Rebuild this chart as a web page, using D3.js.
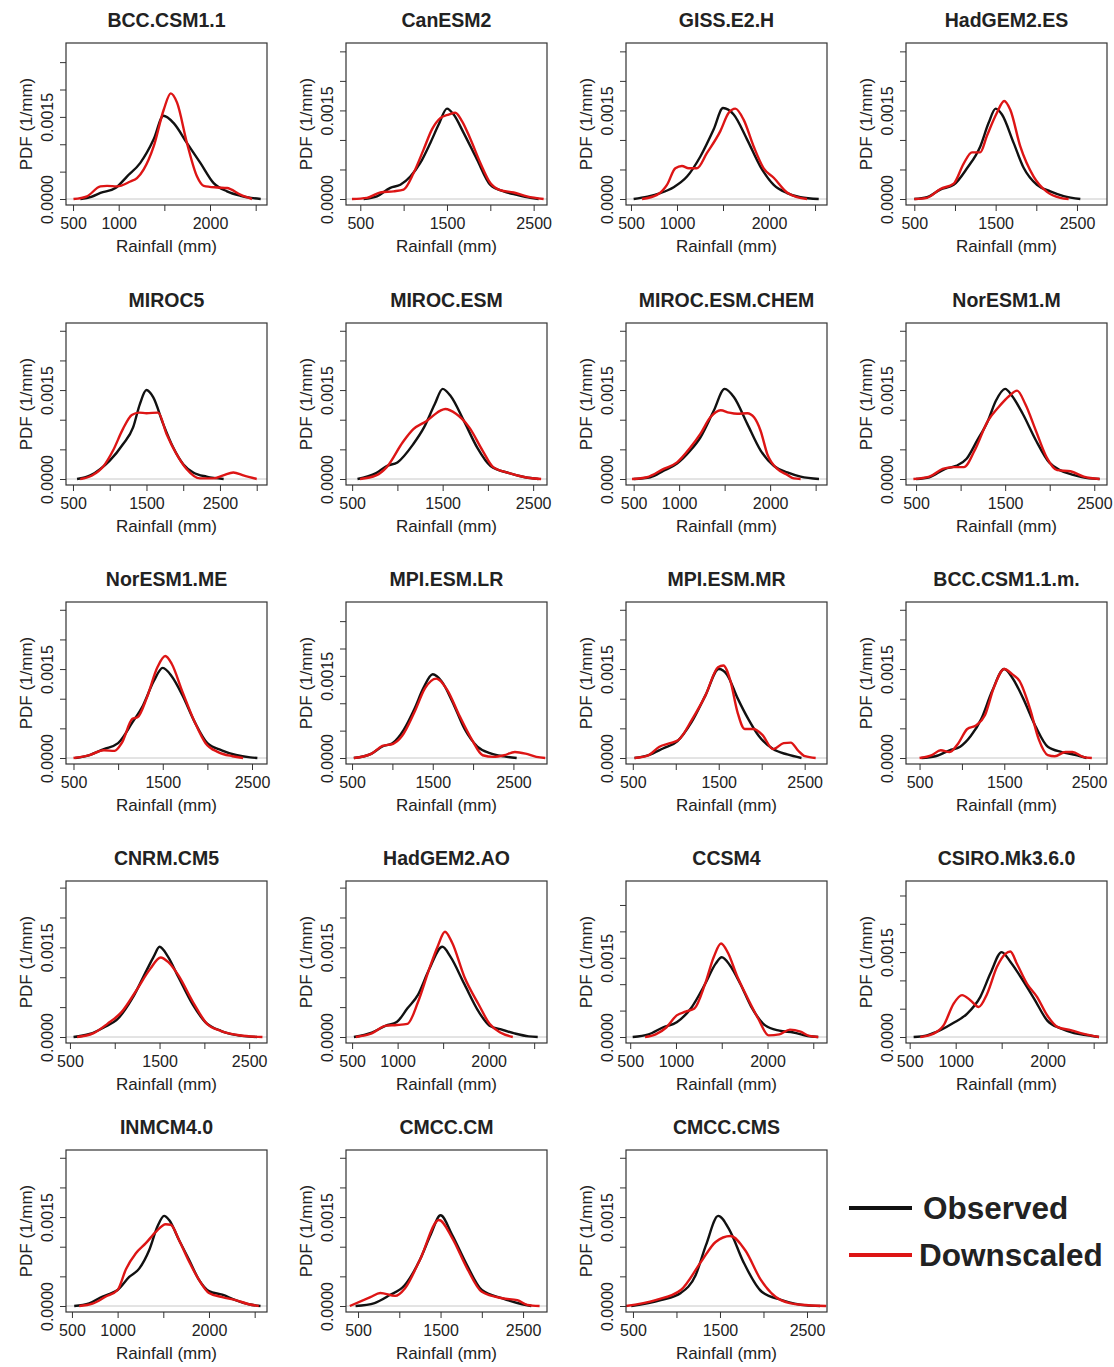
<!DOCTYPE html>
<html>
<head>
<meta charset="utf-8">
<script src="https://cdn.jsdelivr.net/npm/d3@7"></script>
<style>
body { margin: 0; background: #fff; }
text { font-family: "Liberation Sans", Arial, sans-serif; fill: #222; }
</style>
</head>
<body>
<svg id="fig" width="1114" height="1367"></svg>
<script>
// PDF values are written in units of 1e-4 per mm (15 -> 0.0015)
var PDF_UNIT = 1e-4;

var models = ["BCC.CSM1.1", "CanESM2", "GISS.E2.H", "HadGEM2.ES",
  "MIROC5", "MIROC.ESM", "MIROC.ESM.CHEM", "NorESM1.M",
  "NorESM1.ME", "MPI.ESM.LR", "MPI.ESM.MR", "BCC.CSM1.1.m.",
  "CNRM.CM5", "HadGEM2.AO", "CCSM4", "CSIRO.Mk3.6.0",
  "INMCM4.0", "CMCC.CM", "CMCC.CMS"];

// x axis limits (mm) of each panel
var xLimits = [[423, 2624], [335, 2654], [446, 2630], [398, 2869],
  [405, 3140], [432, 2653], [416, 2625], [387, 2643],
  [416, 2668], [425, 2916], [421, 2760], [340, 2712],
  [456, 2699], [433, 2641], [454, 2650], [460, 2645],
  [435, 2635], [354, 2790], [420, 2730]];

// y axis upper limit of each panel (1e-4 /mm)
var yLimits = [27.4, 25.4, 25.4, 25.4,
  25.3, 25.3, 25.3, 25.3,
  25.3, 27.4, 25.3, 25.3,
  25.1, 25.1, 28.4, 26.5,
  25.3, 25.3, 25.3];

// labelled x ticks of each panel
var xLabelsA = [500, 1000, 2000], xLabelsB = [500, 1500, 2500];
var xLabelled = [xLabelsA, xLabelsB, xLabelsA, xLabelsB,
  xLabelsB, xLabelsB, xLabelsA, xLabelsB,
  xLabelsB, xLabelsB, xLabelsB, xLabelsB,
  xLabelsB, xLabelsA, xLabelsA, xLabelsA,
  xLabelsA, xLabelsB, xLabelsB];
var yLabelled = [0, 0.0015];

// observed rainfall PDF, [mm, pdf]
var observed = [
  [[580,0],[700,0.4],[800,1.1],[965,2.0],[1090,4.1],[1237,6.6],[1383,10.9],[1490,15.2],[1600,13.9],[1748,10.2],[1894,6.6],[2040,2.9],[2186,1.4],[2332,0.6],[2450,0.2],[2555,0]],
  [[538,0],[692,0.45],[846,1.9],[962,2.4],[1077,3.8],[1192,6.1],[1308,9.5],[1404,12.6],[1500,15.3],[1577,14.3],[1692,11.2],[1846,6.7],[2000,2.4],[2154,1.3],[2308,0.7],[2462,0.2],[2558,0]],
  [[529,0],[680,0.4],[819,1.0],[964,2.0],[1109,3.8],[1254,7.2],[1399,11.8],[1500,15.4],[1616,14.3],[1761,10.1],[1906,5.5],[2051,2.4],[2196,1.0],[2341,0.3],[2540,0]],
  [[500,0],[656,0.3],[820,1.6],[984,2.4],[1148,5.2],[1311,8.9],[1414,12.9],[1500,15.3],[1578,14.3],[1721,9.5],[1844,5.3],[2008,2.4],[2172,1.3],[2336,0.5],[2541,0]],
  [[555,0],[736,0.6],[873,1.7],[1000,3.1],[1182,5.9],[1318,8.7],[1409,12.6],[1500,15.0],[1591,13.8],[1727,9.3],[1864,5.3],[2000,2.5],[2136,1.1],[2318,0.4],[2550,0]],
  [[559,0],[765,1.0],[882,2.2],[1000,2.8],[1176,5.9],[1294,8.7],[1412,12.6],[1500,15.2],[1588,14.0],[1735,9.8],[1882,5.3],[2029,2.2],[2235,1.0],[2412,0.3],[2559,0]],
  [[500,0],[683,0.3],[830,1.4],[977,2.6],[1123,4.8],[1233,7.0],[1380,11.5],[1500,15.2],[1603,13.8],[1749,9.3],[1896,4.8],[2042,2.2],[2189,1.1],[2335,0.4],[2537,0]],
  [[500,0],[649,0.3],[828,1.7],[948,2.2],[1067,3.4],[1186,6.5],[1306,9.8],[1396,13.2],[1500,15.2],[1578,14.0],[1697,11.0],[1846,6.5],[1994,2.8],[2114,1.5],[2263,0.7],[2442,0.1],[2560,0]],
  [[520,0],[680,0.5],[840,1.5],[1000,2.5],[1160,6.0],[1280,8.9],[1400,13.0],[1500,15.2],[1600,13.8],[1720,10.6],[1860,6.0],[2000,2.5],[2160,1.3],[2320,0.5],[2480,0.1],[2560,0]],
  [[522,0],[743,0.8],[876,2.1],[1000,2.7],[1142,5.2],[1274,9.0],[1385,12.8],[1500,15.3],[1611,14.0],[1743,10.3],[1898,5.2],[2053,2.1],[2208,0.9],[2385,0.3],[2540,0]],
  [[520,0],[686,0.5],[851,1.6],[1017,2.8],[1182,6.0],[1347,10.6],[1500,15.0],[1595,14.1],[1719,10.1],[1843,6.6],[1967,3.7],[2132,1.5],[2298,0.6],[2463,0]],
  [[521,0],[688,0.3],[854,1.3],[979,1.9],[1104,3.7],[1229,6.6],[1354,11.2],[1500,15.0],[1596,13.5],[1721,10.1],[1867,5.4],[2013,1.9],[2179,1.0],[2346,0.5],[2471,0]],
  [[540,0],[719,0.5],[878,1.6],[1038,3.1],[1197,6.5],[1357,11.2],[1436,13.5],[1500,15.1],[1592,13.5],[1711,10.0],[1871,5.4],[2010,2.5],[2189,1.0],[2349,0.35],[2588,0]],
  [[520,0],[716,0.75],[873,1.9],[990,2.5],[1108,4.8],[1225,7.1],[1343,11.2],[1492,15.1],[1578,13.5],[1735,8.8],[1892,4.2],[2010,1.9],[2127,1.3],[2284,0.6],[2441,0.1],[2539,0]],
  [[527,0],[701,0.5],[855,1.8],[1008,2.8],[1162,5.4],[1317,10.0],[1434,13.9],[1500,15.1],[1589,13.6],[1705,10.0],[1820,5.8],[1975,2.2],[2129,1.2],[2284,0.85],[2438,0.2],[2554,0]],
  [[543,0],[688,0.3],[833,1.2],[978,2.5],[1123,4.1],[1268,7.1],[1377,11.2],[1500,15.0],[1598,13.2],[1707,10.6],[1852,6.8],[1996,2.9],[2141,1.5],[2286,0.7],[2431,0.3],[2558,0]],
  [[525,0],[689,0.45],[835,1.6],[907,2.0],[1000,2.7],[1127,4.9],[1236,6.3],[1345,9.4],[1436,13.4],[1509,15.2],[1564,14.5],[1673,11.1],[1782,7.8],[1891,4.4],[2000,2.5],[2145,1.9],[2291,1.0],[2436,0.3],[2564,0]],
  [[470,0],[700,0.5],[880,1.8],[1065,3.5],[1250,7.8],[1380,12.0],[1500,15.3],[1640,12.0],[1820,6.9],[2000,2.7],[2250,1.3],[2490,0.3],[2600,0]],
  [[480,0],[820,1.0],[1050,2.2],[1220,5.2],[1340,10.3],[1480,15.2],[1610,12.8],[1770,7.4],[1980,2.4],[2210,1.0],[2490,0.1],[2650,0]]
];

// downscaled rainfall PDF, [mm, pdf]
var downscaled = [
  [[505,0],[653,0.5],[800,2.3],[872,2.4],[982,2.3],[1128,3.2],[1200,3.8],[1274,5.4],[1383,9.6],[1493,16.3],[1570,19.3],[1639,17.6],[1748,10.2],[1858,4.1],[1931,2.4],[2077,2.1],[2186,2.0],[2332,0.8],[2460,0]],
  [[404,0],[577,0.2],[731,1.1],[885,1.3],[1000,1.6],[1115,4.4],[1231,8.4],[1327,11.8],[1423,13.7],[1519,14.3],[1596,14.6],[1673,13.2],[1769,10.2],[1885,6.1],[2000,2.7],[2115,1.5],[2269,1.1],[2423,0.45],[2615,0]],
  [[620,0],[783,0.7],[891,2.4],[982,5.2],[1054,5.6],[1127,5.2],[1217,5.2],[1326,7.8],[1471,11.5],[1562,14.6],[1634,15.3],[1725,13.4],[1833,8.9],[1942,5.2],[2051,3.6],[2196,1.1],[2304,0.3],[2413,0]],
  [[500,0],[656,0.2],[820,1.7],[984,2.6],[1107,6.0],[1209,7.9],[1311,7.9],[1393,10.7],[1516,14.6],[1605,16.6],[1680,15.1],[1803,8.9],[1967,3.8],[2131,1.2],[2295,0.2],[2397,0]],
  [[600,0],[759,0.6],[918,2.2],[1045,4.8],[1182,8.5],[1300,10.8],[1400,11.2],[1500,11.1],[1659,11.2],[1773,7.6],[1909,4.2],[2045,1.7],[2227,0.1],[2409,0.1],[2545,0.6],[2682,1.1],[2818,0.6],[3000,0]],
  [[588,0],[765,0.6],[882,2.0],[1059,6.2],[1176,8.4],[1324,9.8],[1471,11.5],[1529,11.8],[1647,11.0],[1794,8.7],[1941,4.8],[2059,2.0],[2235,1.0],[2412,0.3],[2588,0]],
  [[482,0],[647,0.3],[830,1.7],[977,2.8],[1123,5.3],[1233,7.6],[1343,10.4],[1456,11.6],[1548,11.2],[1639,11.0],[1749,11.1],[1823,10.4],[1896,8.1],[1969,4.2],[2079,1.7],[2189,0.7],[2262,0.1],[2335,0]],
  [[470,0],[649,0.4],[799,1.7],[918,2.0],[1037,2.0],[1157,4.8],[1306,9.8],[1425,12.1],[1545,14.0],[1634,14.9],[1727,12.6],[1846,8.1],[1964,3.7],[2084,1.5],[2233,1.3],[2382,0.4],[2560,0]],
  [[500,0],[680,0.5],[840,1.3],[960,1.2],[1040,2.5],[1160,6.6],[1220,6.9],[1320,10.1],[1440,15.3],[1528,17.2],[1600,15.9],[1720,11.2],[1860,6.0],[1980,2.5],[2120,1.0],[2280,0.3],[2400,0]],
  [[522,0],[743,0.8],[876,2.2],[1009,2.6],[1119,4.0],[1274,8.4],[1407,12.8],[1544,14.5],[1677,12.5],[1832,7.7],[1987,3.3],[2119,0.5],[2252,0.2],[2385,0.5],[2518,1.1],[2650,0.8],[2783,0.2],[2894,0]],
  [[520,0],[686,0.5],[810,1.9],[934,2.5],[1037,3.1],[1182,6.3],[1347,10.6],[1492,15.3],[1554,15.6],[1636,13.0],[1719,7.7],[1802,4.9],[1905,4.9],[2008,3.9],[2132,1.5],[2256,2.5],[2339,2.6],[2421,1.3],[2504,0.3],[2628,0]],
  [[500,0],[646,0.5],[750,1.3],[854,1.0],[958,2.5],[1063,4.9],[1167,5.5],[1271,7.2],[1375,11.8],[1500,15.0],[1596,14.1],[1679,13.0],[1804,8.3],[1908,3.1],[2013,0.5],[2096,0.3],[2221,1.0],[2304,1.0],[2429,0.2],[2533,0]],
  [[580,0],[759,0.6],[918,2.2],[1078,4.2],[1237,7.7],[1396,11.4],[1512,13.3],[1592,12.6],[1711,10.3],[1871,5.9],[2030,2.2],[2189,1.0],[2388,0.3],[2648,0]],
  [[540,0],[716,0.6],[873,1.9],[990,2.0],[1108,2.2],[1225,5.9],[1343,11.2],[1441,15.2],[1520,17.6],[1598,15.8],[1735,10.0],[1892,5.4],[2010,2.2],[2127,0.75],[2265,0]],
  [[662,0],[778,0.5],[894,1.8],[1008,4.1],[1104,4.8],[1201,5.4],[1317,10.0],[1414,15.2],[1492,17.7],[1569,15.9],[1666,11.6],[1782,7.4],[1898,3.5],[2012,0.3],[2129,0.5],[2245,1.4],[2361,1.0],[2458,0.2],[2554,0]],
  [[616,0],[761,0.6],[870,2.1],[978,5.9],[1069,7.4],[1159,6.5],[1250,5.3],[1341,7.6],[1449,12.4],[1540,14.7],[1594,15.1],[1667,12.9],[1776,9.4],[1884,7.1],[1996,3.8],[2105,1.8],[2250,1.2],[2359,0.7],[2467,0.3],[2558,0]],
  [[580,0],[725,0.4],[871,1.6],[1000,2.7],[1091,6.2],[1200,8.9],[1309,10.6],[1418,12.5],[1527,13.8],[1582,13.7],[1673,11.1],[1782,7.5],[1891,4.4],[2000,2.2],[2145,1.5],[2291,1.0],[2436,0.3],[2545,0]],
  [[400,0],[650,1.5],[770,2.2],[950,1.7],[1070,3.0],[1250,7.8],[1480,14.5],[1640,11.5],[1820,6.4],[2000,2.4],[2250,1.3],[2430,1.0],[2550,0.2],[2700,0]],
  [[420,0],[760,1.0],[1050,2.7],[1280,7.4],[1450,10.8],[1620,11.8],[1790,9.4],[1970,4.4],[2200,1.0],[2430,0.2],[2720,0]]
];

var legendLabels = ["Observed", "Downscaled"];
var seriesColors = ["#111111", "#dd1515"];

var margin = {top: 43, left: 66},
    width = 201,
    height = 162,
    cellW = 280,
    rowTop = [0, 280, 559, 838, 1107];

var svg = d3.select("#fig");

models.forEach(function(name, i) {
  var col = i % 4, row = Math.floor(i / 4);
  var g = svg.append("g")
      .attr("transform", "translate(" + (col * cellW + margin.left) + "," + (rowTop[row] + margin.top) + ")");

  var x = d3.scaleLinear().domain(xLimits[i]).range([0, width]);
  var ymax = yLimits[i] * PDF_UNIT;
  var y = d3.scaleLinear().domain([-0.04 * ymax, 1.04 * ymax]).range([height, 0]);

  var xTicks = d3.range(Math.ceil(xLimits[i][0] / 500) * 500, xLimits[i][1], 500);
  var yTicks = d3.range(6).map(function(k) { return k * 0.0005; })
      .filter(function(v) { return v <= 1.04 * ymax; });

  var xa = g.append("g")
      .attr("transform", "translate(0," + height + ")")
      .call(d3.axisBottom(x).tickValues(xTicks).tickSize(6)
        .tickFormat(function(d) { return xLabelled[i].indexOf(d) >= 0 ? d : ""; }));
  xa.select(".domain").remove();
  xa.selectAll("line").attr("stroke", "#333");
  xa.selectAll("text").attr("y", 24).attr("dy", null)
      .style("font-size", "16px").attr("fill", "#222");

  var ya = g.append("g")
      .call(d3.axisLeft(y).tickValues(yTicks).tickSize(6)
        .tickFormat(function(d) { return yLabelled.indexOf(d) >= 0 ? d3.format(".4f")(d) : ""; }));
  ya.select(".domain").remove();
  ya.selectAll("line").attr("stroke", "#333");
  ya.selectAll("text").attr("x", 0).attr("y", -13).attr("dy", null)
      .attr("transform", "rotate(-90)")
      .style("text-anchor", "middle").style("font-size", "16px").attr("fill", "#222");

  // zero line as drawn by plot.density
  g.append("line")
      .attr("x1", 0).attr("x2", width)
      .attr("y1", y(0)).attr("y2", y(0))
      .attr("stroke", "#c8c8c8").attr("stroke-width", 1);

  var line = d3.line()
      .x(function(d) { return x(d[0]); })
      .y(function(d) { return y(d[1] * PDF_UNIT); })
      .curve(d3.curveMonotoneX);

  [observed[i], downscaled[i]].forEach(function(s, k) {
    g.append("path")
        .datum(s)
        .attr("d", line)
        .attr("fill", "none")
        .attr("stroke", seriesColors[k])
        .attr("stroke-width", 2.4)
        .attr("stroke-linejoin", "round");
  });

  g.append("rect")
      .attr("width", width).attr("height", height)
      .attr("fill", "none").attr("stroke", "#333").attr("stroke-width", 1.2);

  g.append("text")
      .attr("x", width / 2).attr("y", -16)
      .attr("text-anchor", "middle")
      .style("font-size", "19.5px").style("font-weight", "bold")
      .text(name);

  g.append("text")
      .attr("x", width / 2).attr("y", height + 47)
      .attr("text-anchor", "middle")
      .style("font-size", "17px")
      .text("Rainfall (mm)");

  g.append("text")
      .attr("transform", "translate(-34," + (height / 2) + ") rotate(-90)")
      .attr("text-anchor", "middle")
      .style("font-size", "17px")
      .text("PDF (1/mm)");
});

// legend
var legend = svg.append("g").attr("transform", "translate(849,1208)");
legendLabels.forEach(function(lab, k) {
  legend.append("line")
      .attr("x1", 0).attr("x2", 63)
      .attr("y1", k * 47).attr("y2", k * 47)
      .attr("stroke", seriesColors[k]).attr("stroke-width", 4);
  legend.append("text")
      .attr("x", k == 0 ? 74 : 70).attr("y", k * 47 + 11)
      .style("font-size", "31.5px").style("font-weight", "bold")
      .attr("fill", "#111")
      .text(lab);
});
</script>
</body>
</html>
